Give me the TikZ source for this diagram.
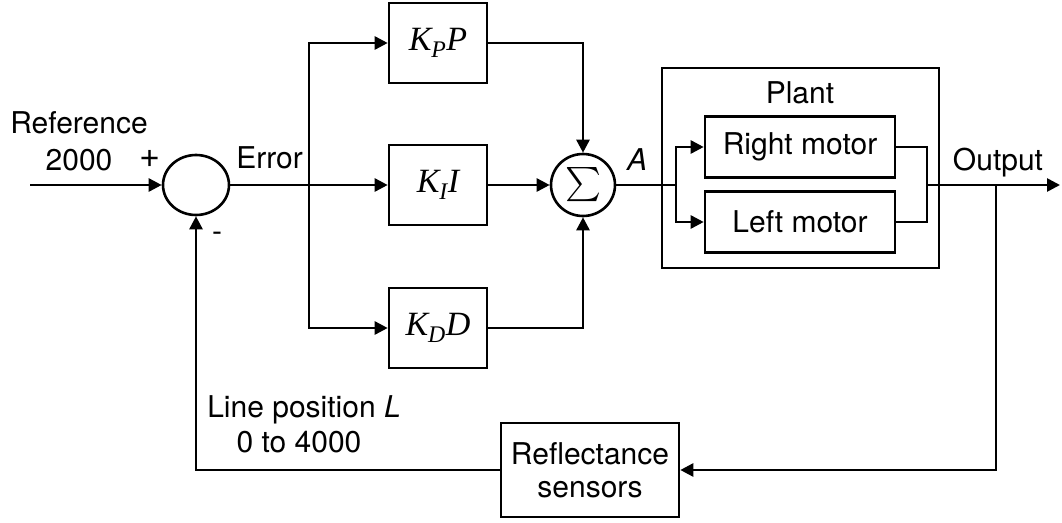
\documentclass[tikz,border=0pt]{standalone}
\usepackage{amsmath}
\usepackage{fontspec}
\setmainfont{TeX Gyre Heros}
\newfontfamily\tmsfont{Liberation Serif}
\usetikzlibrary{calc, positioning, arrows.meta, shapes.geometric}

\newcommand{\gain}[2]{{\tmsfont\itshape K\textsubscript{#1}#2}}

\tikzset{
    blk/.style={draw, inner sep=0pt, minimum width=98pt, minimum height=80pt,
        font=\fontsize{34}{36}\selectfont},
    mot/.style={draw, inner sep=0pt, minimum width=190pt, minimum height=61pt},
    sumnode/.style={draw, ellipse, inner sep=0pt},
    sig/.style={-{Triangle[length=13pt,width=13pt]}},
    lbl/.style={inner sep=0pt, anchor=base}
}

\begin{document}
\begin{tikzpicture}[x=1pt, y=-1pt, line width=2.6pt,
    font=\fontsize{30}{33}\selectfont]
    \useasboundingbox (0,0) rectangle (1062,522);

    % Comparador
    \coordinate (in) at (30,185);
    \node[sumnode, minimum width=66pt, minimum height=60pt] (err) at (196,185) {};
    \node[lbl] (ref1) at (79,133) {Reference};
    \node[lbl] (ref2) at (79,170) {2000};
    \node[inner sep=0pt, font=\fontsize{36}{36}\selectfont] (plus) at (150,159) {+};
    \node[inner sep=0pt] (minus) at (217,237) {-};
    \node[lbl, anchor=base west] (errlbl) at (235,168) {Error};
    \draw[sig] (in) -- (err.west);

    % Branques PID
    \coordinate (split) at (309,185);
    \node[blk] (kp) at (438,43) {\gain{P}{P}};
    \node[blk] (ki) at (438,185) {\gain{I}{I}};
    \node[blk] (kd) at (438,328) {\gain{D}{D}};
    \node[sumnode, minimum width=64pt, minimum height=62pt] (sum) at (583,185)
        {\resizebox{36pt}{!}{$\sum$}};
    \draw (err.east) -- (split);
    \draw[sig] (split) -- (ki.west);
    \draw[sig] (split) |- (kp.west);
    \draw[sig] (split) |- (kd.west);
    \draw[sig] (kp.east) -| (sum.north);
    \draw[sig] (ki.east) -- (sum.west);
    \draw[sig] (kd.east) -| (sum.south);
    \node[lbl] (albl) at (637,170) {\textit{A}};

    % Planta
    \node[draw, inner sep=0pt, minimum width=277pt, minimum height=200pt]
        (plant) at (800.5,168) {};
    \node[lbl] (plantlbl) at (800,103) {Plant};
    \node[mot] (rmot) at (800,147) {Right motor};
    \node[mot] (lmot) at (800,222) {Left motor};
    \coordinate (fork) at (676,185);
    \coordinate (join) at (927,185);
    \draw (sum.east) -- (fork);
    \draw[sig] (fork) |- (rmot.west);
    \draw[sig] (fork) |- (lmot.west);
    \draw (rmot.east) -| (join);
    \draw (lmot.east) -| (join);

    % Sortida
    \coordinate (out) at (1060,185);
    \coordinate (tap) at (996,185);
    \draw[sig] (join) -- (out);
    \node[lbl] (outlbl) at (998,170) {Output};

    % Realimentacio
    \node[draw, inner sep=0pt, minimum width=178pt, minimum height=94pt,
        align=center] (sens) at (590,470) {Reflectance\\sensors};
    \draw[sig] (tap) |- (sens.east);
    \draw[sig] (sens.west) -| (err.south);
    \node[lbl] (pos1) at (304,417) {Line position \textit{L}};
    \node[lbl] (pos2) at (299,452) {0 to 4000};
\end{tikzpicture}
\end{document}
